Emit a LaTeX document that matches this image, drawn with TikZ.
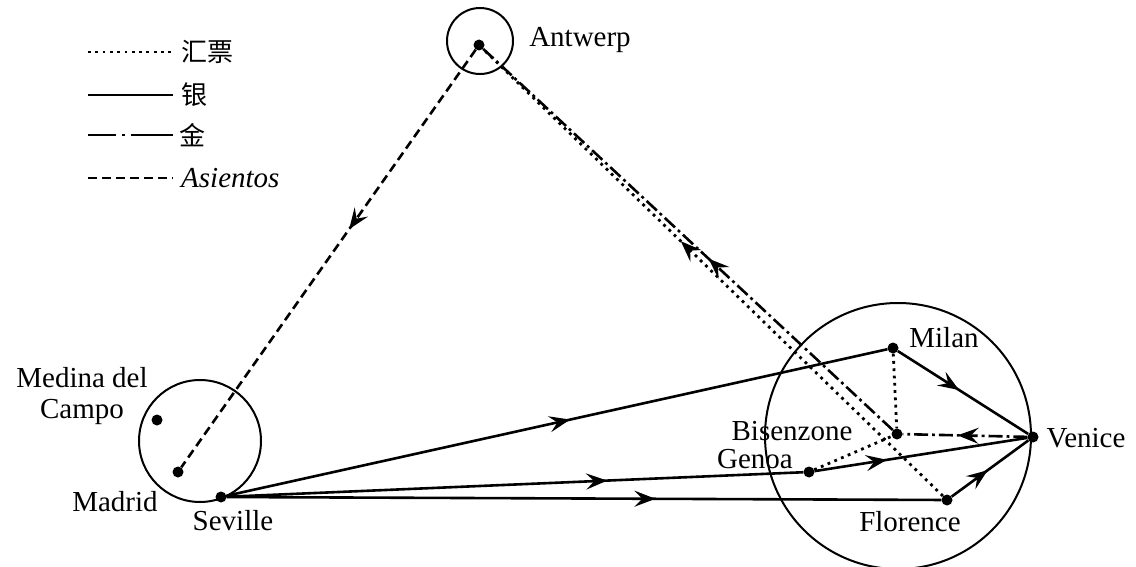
\documentclass[tikz,border=0pt]{standalone}
\usepackage{fontspec}
\setmainfont{Liberation Serif}
\newfontfamily\cjk{Noto Sans CJK SC}
\usetikzlibrary{arrows.meta,decorations.markings}
\tikzset{
  city/.style={circle,fill=black,inner sep=0pt,minimum size=11pt},
  lbl/.style={font=\fontsize{29}{31}\selectfont, inner sep=0pt},
  cjklbl/.style={font=\cjk\fontsize{26}{30}\selectfont, inner sep=0pt, anchor=west},
  silver/.style={line width=2.6pt},
  bills/.style={line width=2.8pt, dash pattern=on 2.8pt off 4.5pt},
  goldline/.style={line width=2.6pt, dash pattern=on 14pt off 4pt on 2.8pt off 4pt},
  asiento/.style={line width=2.6pt, dash pattern=on 9pt off 5pt},
  ring/.style={line width=2pt},
  midarrow/.style={postaction={decorate,decoration={markings,
      mark=at position #1 with {\arrow{Stealth[length=21pt,width=16pt,inset=8pt]}}}}},
}
\begin{document}
\begin{tikzpicture}[x=1pt,y=-1pt]
\useasboundingbox (0,0) rectangle (1136,567);
\fill[white] (0,0) rectangle (1136,567);

% cities
\node[city] (antwerp)  at (479,45) {};
\node[city] (medina)   at (157,420) {};
\node[city] (madrid)   at (178,472) {};
\node[city] (seville)  at (221,497) {};
\node[city] (milan)    at (893,348) {};
\node[city] (venice)   at (1033,437) {};
\node[city] (bisenzone) at (897,434) {};
\node[city] (genoa)    at (809,472) {};
\node[city] (florence) at (947,500) {};

% rings
\draw[ring] (480,41) circle (33);
\draw[ring] (200,441) circle (61);
\draw[ring] (898,436) circle (133);

% labels
\node[lbl] (lantwerp) at (580,40) {Antwerp};
\node[lbl] (lmilan) at (944,338) {Milan};
\node[lbl] (lvenice) at (1086,438) {Venice};
\node[lbl] (lbis) at (792,431) {Bisenzone};
\node[lbl] (lgenoa) at (755,459) {Genoa};
\node[lbl] (lflor) at (910,522) {Florence};
\node[lbl] (lsev) at (233,521) {Seville};
\node[lbl] (lmad) at (115,502) {Madrid};
\node[lbl,align=center] (lmedina) at (82,396) {Medina del\\Campo};

% legend
\coordinate (la1) at (88,52);  \coordinate (lb1) at (173,52);
\coordinate (la2) at (88,95);  \coordinate (lb2) at (173,95);
\coordinate (la3) at (88,135); \coordinate (lb3) at (173,135);
\coordinate (la4) at (88,178); \coordinate (lb4) at (173,178);
\draw[bills] (la1) -- (lb1);
\draw[silver] (la2) -- (lb2);
\draw[line width=2.6pt, dash pattern=on 28pt off 6pt on 2.8pt off 6pt on 45pt] (la3) -- (lb3);
\draw[asiento] (la4) -- (lb4);
\node[cjklbl] (t1) at (181,52) {汇票};
\node[cjklbl] (t2) at (181,95) {银};
\node[cjklbl] (t3) at (179,135) {金};
\node[lbl,anchor=west,font=\fontsize{29}{31}\selectfont\itshape] (t4) at (181,178) {Asientos};

% Asientos
\draw[asiento,midarrow=0.43] (antwerp) -- (madrid);

% bills of exchange (dotted)
\draw[bills,midarrow=0.57] (florence) -- (antwerp);
\draw[bills] (milan) -- (bisenzone);
\draw[bills] (genoa) -- (bisenzone);

% gold
\draw[goldline,midarrow=0.45] (bisenzone) -- (antwerp);
\draw[goldline,midarrow=0.56] (venice) -- (bisenzone);

% silver
\draw[silver,midarrow=0.52] (seville) -- (milan);
\draw[silver,midarrow=0.66] (seville) -- (genoa);
\draw[silver,midarrow=0.34] (genoa) -- (venice);
\draw[silver,midarrow=0.6] (seville) -- (florence);
\draw[silver,midarrow=0.47] (florence) -- (venice);
\draw[silver,midarrow=0.47] (milan) -- (venice);
\end{tikzpicture}
\end{document}
